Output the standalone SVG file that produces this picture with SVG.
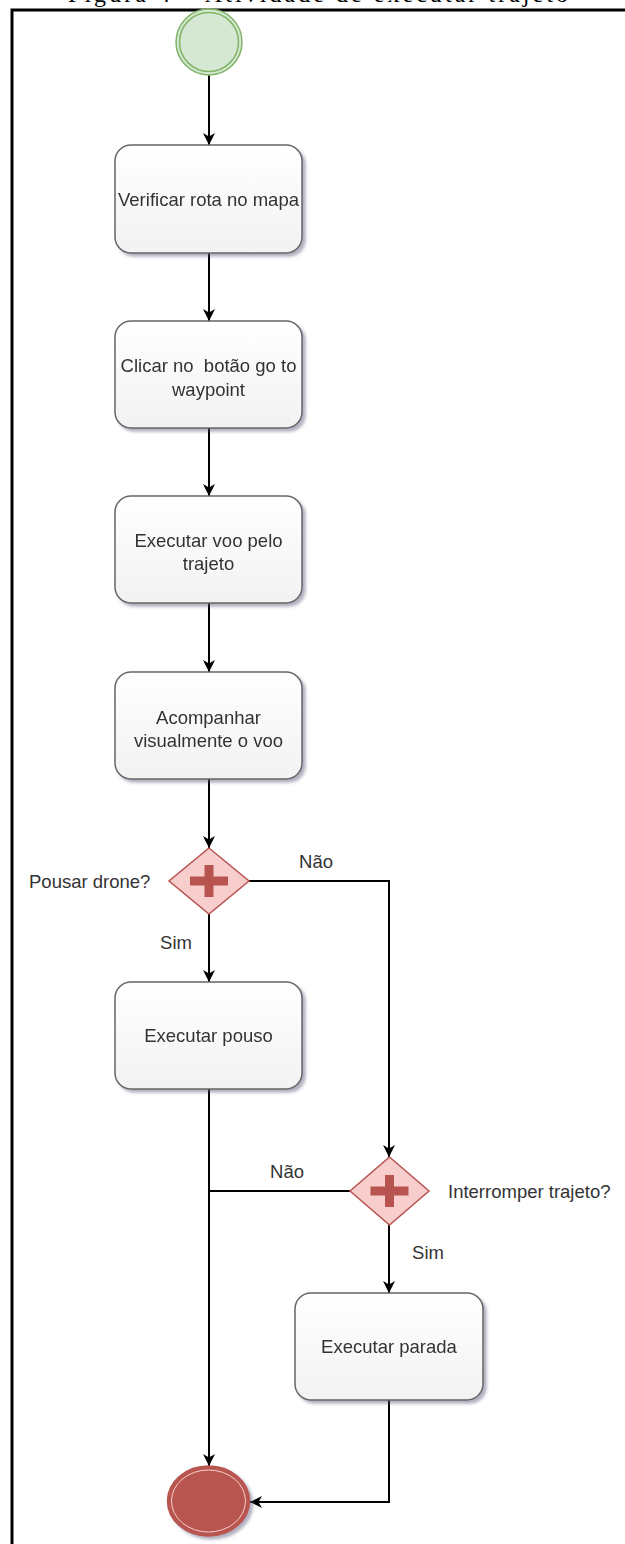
<svg xmlns="http://www.w3.org/2000/svg" width="625" height="1544" viewBox="0 0 625 1544">
<style>
.lbl{font-family:"Liberation Sans",Arial,sans-serif;font-size:18.5px;fill:#333333}
.box{fill:url(#bg);stroke:#666666;stroke-width:1.5}
.ln{fill:none;stroke:#000000;stroke-width:2}
.dia{fill:#f8cecc;stroke:#b85450;stroke-width:1.5}
.cross{fill:#b85450}
</style>
<defs>
<linearGradient id="bg" x1="0" y1="0" x2="0" y2="1">
<stop offset="0" stop-color="#ffffff"/>
<stop offset="1" stop-color="#f2f2f2"/>
</linearGradient>
<filter id="sh" x="-10%" y="-10%" width="130%" height="130%">
<feDropShadow dx="3" dy="3" stdDeviation="1.5" flood-color="#555577" flood-opacity="0.45"/>
</filter>
<marker id="a" viewBox="0 0 12 12" refX="12" refY="6" markerWidth="12" markerHeight="12" markerUnits="userSpaceOnUse" orient="auto">
<path d="M0,0 L12,6 L0,12 L3.5,6 Z" fill="#000"/>
</marker>
</defs>
<rect x="0" y="0" width="625" height="1544" fill="#ffffff"/>
<text x="318" y="1.5" text-anchor="middle" textLength="500" font-family="Liberation Serif,serif" font-size="24" fill="#000">Figura 4 – Atividade de executar trajeto</text>
<g id="frame">
<path d="M12,1544 L12,10 L625,10" fill="none" stroke="#000" stroke-width="3"/>
</g>
<g id="connectors">
<path class="ln" d="M209,75 L209,145" marker-end="url(#a)"/>
<path class="ln" d="M209,253 L209,321" marker-end="url(#a)"/>
<path class="ln" d="M209,428 L209,496" marker-end="url(#a)"/>
<path class="ln" d="M209,603 L209,672" marker-end="url(#a)"/>
<path class="ln" d="M209,779 L209,848" marker-end="url(#a)"/>
<path class="ln" d="M209,914 L209,982" marker-end="url(#a)"/>
<path class="ln" d="M249,881 L389,881 L389,1157" marker-end="url(#a)"/>
<path class="ln" d="M209,1089 L209,1466" marker-end="url(#a)"/>
<path class="ln" d="M350,1191 L209,1191"/>
<path class="ln" d="M389,1225 L389,1293" marker-end="url(#a)"/>
<path class="ln" d="M389,1400 L389,1502 L250,1502" marker-end="url(#a)"/>
<text class="lbl" x="316" y="868" text-anchor="middle">Não</text>
<text class="lbl" x="176" y="949" text-anchor="middle">Sim</text>
<text class="lbl" x="287" y="1178" text-anchor="middle">Não</text>
<text class="lbl" x="428" y="1259" text-anchor="middle">Sim</text>
</g>
<g id="start">
<circle cx="209" cy="42" r="33" fill="#d5e8d4" stroke="#82b366" stroke-width="1.5"/>
<circle cx="209" cy="42" r="29.5" fill="none" stroke="#82b366" stroke-width="1.5"/>
</g>
<g id="n1" filter="url(#sh)">
<rect class="box" x="115" y="145" width="187" height="108" rx="16"/>
<text class="lbl" x="208.5" y="206" text-anchor="middle">Verificar rota no mapa</text>
</g>
<g id="n2" filter="url(#sh)">
<rect class="box" x="115" y="321" width="187" height="107" rx="16"/>
<text class="lbl" x="208.5" y="372" text-anchor="middle" xml:space="preserve">Clicar no  botão go to</text>
<text class="lbl" x="208.5" y="396" text-anchor="middle">waypoint</text>
</g>
<g id="n3" filter="url(#sh)">
<rect class="box" x="115" y="496" width="187" height="107" rx="16"/>
<text class="lbl" x="208.5" y="547" text-anchor="middle">Executar voo pelo</text>
<text class="lbl" x="208.5" y="570" text-anchor="middle">trajeto</text>
</g>
<g id="n4" filter="url(#sh)">
<rect class="box" x="115" y="672" width="187" height="107" rx="16"/>
<text class="lbl" x="208.5" y="724" text-anchor="middle">Acompanhar</text>
<text class="lbl" x="208.5" y="747" text-anchor="middle">visualmente o voo</text>
</g>
<g id="g1">
<path class="dia" d="M209,848 L249,881 L209,914 L169,881 Z"/>
<path class="cross" d="M204.5,865 h9 v11.5 h14.5 v9 h-14.5 v11.5 h-9 v-11.5 h-14.5 v-9 h14.5 Z"/>
<text class="lbl" x="29" y="888">Pousar drone?</text>
</g>
<g id="n5" filter="url(#sh)">
<rect class="box" x="115" y="982" width="187" height="107" rx="16"/>
<text class="lbl" x="208.5" y="1042" text-anchor="middle">Executar pouso</text>
</g>
<g id="g2">
<path class="dia" d="M389.5,1157 L429,1191 L389.5,1225 L350,1191 Z"/>
<path class="cross" d="M385,1175 h9 v11.5 h14.5 v9 h-14.5 v11.5 h-9 v-11.5 h-14.5 v-9 h14.5 Z"/>
<text class="lbl" x="448" y="1198">Interromper trajeto?</text>
</g>
<g id="n6" filter="url(#sh)">
<rect class="box" x="295" y="1293" width="188" height="107" rx="16"/>
<text class="lbl" x="389" y="1353" text-anchor="middle">Executar parada</text>
</g>
<g id="end" filter="url(#sh)">
<ellipse cx="208.5" cy="1501" rx="41" ry="35" fill="#b85450" stroke="#b85450" stroke-width="1.5"/>
<ellipse cx="208.5" cy="1501" rx="37" ry="31" fill="none" stroke="#f8cecc" stroke-width="1"/>
</g>
</svg>
